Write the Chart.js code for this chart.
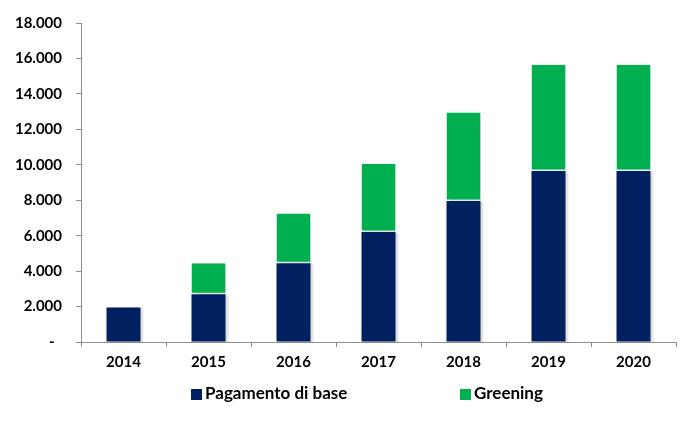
<!DOCTYPE html>
<html>
<head>
<meta charset="utf-8">
<script src="https://cdn.jsdelivr.net/npm/chart.js@4"></script>
<style>
  body { margin: 0; background: #fff; }
  #wrap { position: relative; width: 694px; height: 423px; }
  #legend { position: absolute; top: 382px; left: 0; width: 694px; font: bold 17px Lato, sans-serif; color: #000; }
  .item { position: absolute; top: 0; white-space: nowrap; }
  .box { display: inline-block; width: 11px; height: 11px; margin-right: 3px; vertical-align: -1px; }
</style>
</head>
<body>
<div id="wrap">
  <canvas id="myChart" width="694" height="423"></canvas>
  <div id="legend"></div>
</div>
<script>
var years = ['2014', '2015', '2016', '2017', '2018', '2019', '2020'];
var pagamentoDiBase = [1950, 2700, 4450, 6200, 7950, 9650, 9650];
var greening = [null, 1750, 2800, 3850, 5000, 6000, 6000];
var seriesNames = ['Pagamento di base', 'Greening'];
var seriesColors = ['#002060', '#00B050'];
var legendLeft = [191, 460];

function fmt(v) {
	if (v == 0) return '-  ';
	return String(v).replace(/\B(?=(\d{3})+(?!\d))/g, '.');
}

// soft shadow behind the bars
var barShadow = {
	id: 'barShadow',
	beforeDatasetsDraw: function(chart) {
		var ctx = chart.ctx;
		ctx.save();
		ctx.shadowColor = 'rgba(0,0,0,0.15)';
		ctx.shadowOffsetX = 2;
		ctx.shadowOffsetY = 1;
		ctx.shadowBlur = 2;
	},
	afterDatasetsDraw: function(chart) { chart.ctx.restore(); }
};

window.onload = function() {
	const ctx = document.getElementById('myChart').getContext('2d');
	var chart = new Chart(ctx, {
		type: 'bar',
		data: {
			labels: years,
			datasets: [{
				label: seriesNames[0],
				data: pagamentoDiBase,
				backgroundColor: seriesColors[0],
				barPercentage: 0.4,
				categoryPercentage: 1
			}, {
				label: seriesNames[1],
				data: greening,
				backgroundColor: seriesColors[1],
				borderColor: '#ffffff',
				borderWidth: {top: 0, left: 0, right: 0, bottom: 1.5},
				borderSkipped: false,
				barPercentage: 0.4,
				categoryPercentage: 1
			}]
		},
		options: {
			responsive: false,
			animation: false,
			layout: {padding: {top: 8, right: 18, bottom: 46, left: 0}},
			plugins: {legend: {display: false}, tooltip: {enabled: false}},
			scales: {
				x: {
					stacked: true,
					grid: {drawOnChartArea: false, tickLength: 5, color: '#8c8c8c'},
					border: {color: '#8c8c8c', width: 1},
					ticks: {color: '#000', padding: 6, font: {family: 'Lato', weight: 'bold', size: 15}}
				},
				y: {
					stacked: true,
					min: 0,
					max: 18000,
					afterFit: function(s) { s.width = 81; },
					grid: {drawOnChartArea: false, tickLength: 5, color: '#8c8c8c'},
					border: {color: '#8c8c8c', width: 1},
					ticks: {
						stepSize: 2000,
						color: '#000',
						padding: 14,
						font: {family: 'Lato', weight: 'bold', size: 15},
						callback: function(v) { return fmt(v); }
					}
				}
			}
		},
		plugins: [barShadow]
	});

	var legend = document.getElementById('legend');
	for (var i = 0; i < seriesNames.length; i++) {
		var item = document.createElement('div');
		item.className = 'item';
		item.style.left = legendLeft[i] + 'px';
		item.innerHTML = '<span class="box" style="background:' + seriesColors[i] + '"></span>' + seriesNames[i];
		legend.appendChild(item);
	}
};
</script>
</body>
</html>
